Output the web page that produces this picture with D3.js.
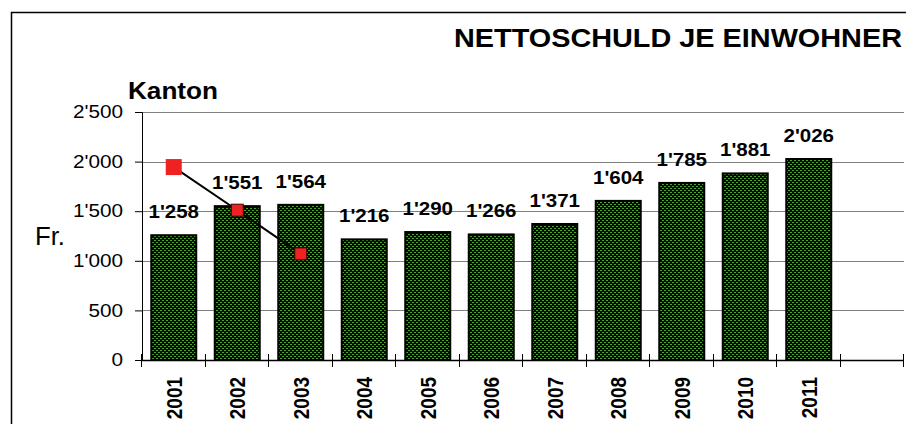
<!DOCTYPE html>
<html>
<head>
<meta charset="utf-8">
<script src="https://cdn.jsdelivr.net/npm/d3@7"></script>
<style>
  body { margin: 0; background: #fff; }
  svg { display: block; font-family: "Liberation Sans", Arial, sans-serif; }
</style>
</head>
<body>
<div id="chart"></div>
<script>
// chart values
const years = ['2001', '2002', '2003', '2004', '2005', '2006', '2007', '2008', '2009', '2010', '2011'];
const debt = [1258, 1551, 1564, 1216, 1290, 1266, 1371, 1604, 1785, 1881, 2026];
const yTicks = [0, 500, 1000, 1500, 2000, 2500];
const lineYears = ['2001', '2002', '2003'];
const lineValues = [1945, 1510, 1070];

const width = 906, height = 424;
const margin = { top: 112, right: 2, bottom: 64, left: 142 };

const svg = d3.select('#chart').append('svg')
  .attr('width', width)
  .attr('height', height);

const fmt = v => d3.format(',')(v).replace(/,/g, "'");

// stretch text horizontally a bit, the original looks wider than Arial
function stretch(sel, k) {
  sel.each(function () {
    const w = this.getComputedTextLength();
    d3.select(this).attr('textLength', w * k).attr('lengthAdjust', 'spacingAndGlyphs');
  });
}

// dotted green fill
const pat = svg.append('defs').append('pattern')
  .attr('id', 'dots')
  .attr('patternUnits', 'userSpaceOnUse')
  .attr('width', 4).attr('height', 4);
pat.append('rect').attr('width', 4).attr('height', 4).attr('fill', '#050a03');
pat.append('rect').attr('x', 0).attr('y', 0).attr('width', 2).attr('height', 1).attr('fill', '#4aa82c');
pat.append('rect').attr('x', 2).attr('y', 2).attr('width', 2).attr('height', 1).attr('fill', '#4aa82c');

// outer frame (open on right and bottom)
svg.append('path')
  .attr('d', 'M11.5,' + height + 'V12.5H' + width)
  .attr('fill', 'none')
  .attr('stroke', '#000')
  .attr('stroke-width', 1.5);

const innerW = width - margin.left - margin.right;
const innerH = height - margin.top - margin.bottom;

const x = d3.scaleBand()
  .domain(years.concat(['_']))
  .range([0, innerW])
  .padding(0);
const y = d3.scaleLinear().domain([0, 2500]).range([innerH, 0]);

const g = svg.append('g')
  .attr('transform', 'translate(' + margin.left + ',' + margin.top + ')');

// gridlines
g.append('g')
  .selectAll('line')
  .data(yTicks.filter(d => d > 0))
  .enter().append('line')
  .attr('x1', 0).attr('x2', innerW)
  .attr('y1', d => Math.round(y(d)) + 0.5)
  .attr('y2', d => Math.round(y(d)) + 0.5)
  .attr('stroke', '#808080')
  .attr('stroke-width', 1);

// y axis
const yAxis = g.append('g')
  .attr('class', 'y-axis')
  .call(d3.axisLeft(y).tickValues(yTicks).tickSize(7).tickFormat(fmt));
yAxis.select('.domain').attr('stroke', '#000');
yAxis.selectAll('.tick line').attr('stroke', '#000');
yAxis.selectAll('.tick text')
  .attr('x', -19)
  .attr('font-size', 18)
  .attr('font-family', '"Liberation Sans", Arial, sans-serif')
  .attr('fill', '#000')
  .call(stretch, 1.15);

// bars
const barW = 45;
g.append('g')
  .selectAll('rect')
  .data(years)
  .enter().append('rect')
  .attr('x', d => x(d) + (x.bandwidth() - barW) / 2)
  .attr('y', (d, i) => y(debt[i]))
  .attr('width', barW)
  .attr('height', (d, i) => y(0) - y(debt[i]))
  .attr('fill', 'url(#dots)')
  .attr('stroke', '#000')
  .attr('stroke-width', 2);

// value labels
g.append('g')
  .selectAll('text')
  .data(years)
  .enter().append('text')
  .attr('x', d => x(d) + x.bandwidth() / 2)
  .attr('y', (d, i) => y(debt[i]) - 17)
  .attr('text-anchor', 'middle')
  .attr('font-size', 19)
  .attr('font-weight', 'bold')
  .text((d, i) => fmt(debt[i]))
  .call(stretch, 1.08);

// x axis: baseline and ticks at category boundaries
g.append('line')
  .attr('x1', 0).attr('x2', innerW)
  .attr('y1', innerH + 0.5).attr('y2', innerH + 0.5)
  .attr('stroke', '#000').attr('stroke-width', 1.5);
const bounds = x.domain().map(d => x(d)).concat([innerW]);
g.append('g')
  .selectAll('line')
  .data(bounds)
  .enter().append('line')
  .attr('x1', d => Math.round(d) - 0.5).attr('x2', d => Math.round(d) - 0.5)
  .attr('y1', innerH - 6).attr('y2', innerH + 7)
  .attr('stroke', '#000');

// rotated year labels, a little wider across like the original
g.append('g')
  .selectAll('text')
  .data(years)
  .enter().append('text')
  .attr('transform', d => 'translate(' + (x(d) + x.bandwidth() / 2 + 8) + ',' + (innerH + 17) + ') rotate(-90) scale(1,1.2)')
  .attr('text-anchor', 'end')
  .attr('font-size', 19)
  .attr('font-weight', 'bold')
  .text(d => d);

// red line with square markers
const lineData = lineYears.map((d, i) => ({ year: d, value: lineValues[i] }));
const line = d3.line()
  .x(d => x(d.year) + x.bandwidth() / 2)
  .y(d => y(d.value));
g.append('path')
  .datum(lineData)
  .attr('d', line)
  .attr('fill', 'none')
  .attr('stroke', '#000')
  .attr('stroke-width', 2);
g.append('g')
  .selectAll('rect')
  .data(lineData)
  .enter().append('rect')
  .attr('width', (d, i) => i === 0 ? 16 : 12)
  .attr('height', (d, i) => i === 0 ? 16 : 12)
  .attr('x', (d, i) => x(d.year) + x.bandwidth() / 2 - (i === 0 ? 8 : 6))
  .attr('y', (d, i) => y(d.value) - (i === 0 ? 8 : 6))
  .attr('fill', '#ee2222')
  .attr('stroke', (d, i) => i === 0 ? 'none' : '#3a0000')
  .attr('stroke-width', 1);

// title and labels
svg.append('text')
  .attr('x', 902).attr('y', 47)
  .attr('text-anchor', 'end')
  .attr('font-size', 26)
  .attr('font-weight', 'bold')
  .attr('textLength', 448)
  .attr('lengthAdjust', 'spacingAndGlyphs')
  .text('NETTOSCHULD JE EINWOHNER');

svg.append('text')
  .attr('x', 128).attr('y', 99)
  .attr('font-size', 24)
  .attr('font-weight', 'bold')
  .attr('textLength', 90)
  .attr('lengthAdjust', 'spacingAndGlyphs')
  .text('Kanton');

svg.append('text')
  .attr('x', 35).attr('y', 245)
  .attr('font-size', 25)
  .attr('textLength', 30)
  .attr('lengthAdjust', 'spacingAndGlyphs')
  .text('Fr.');
</script>
</body>
</html>
